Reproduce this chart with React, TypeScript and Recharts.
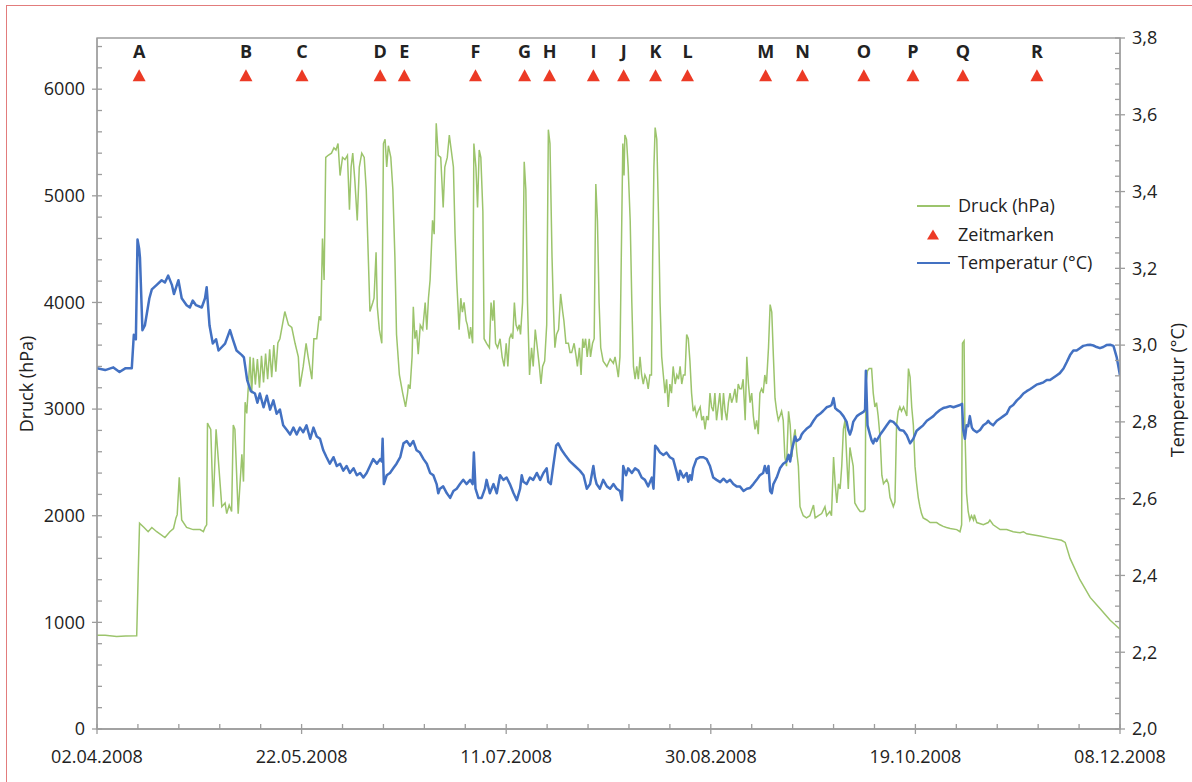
import React from "react";
import { ComposedChart, Line, Scatter, XAxis, YAxis, ReferenceArea, Legend } from "recharts";

const FONT = "'Open Sans', 'Noto Sans', sans-serif";
const GREEN = "#9cc46c";
const BLUE = "#4371c2";
const RED = "#ec3a25";
const AXIS = "#9d9d9d";
const TEXT = "#222";

// x = days since 02.04.2008
const dateDays = [0, 50, 100, 150, 200, 250];
const dateLabels = ["02.04.2008", "22.05.2008", "11.07.2008", "30.08.2008", "19.10.2008", "08.12.2008"];
const dayTicks = Array.from({ length: 26 }, (_, i) => i * 10);
const druckTicks = Array.from({ length: 33 }, (_, i) => i * 200);
const druckLabels = [0, 1000, 2000, 3000, 4000, 5000, 6000];
const tempTicks = Array.from({ length: 46 }, (_, i) => Math.round((2 + i * 0.04) * 100) / 100);
const tempLabels = [2.0, 2.2, 2.4, 2.6, 2.8, 3.0, 3.2, 3.4, 3.6, 3.8];

// Zeitmarken [day, label]
const marken: [number, string][] = [
  [10.3, "A"], [36.4, "B"], [50.1, "C"], [69.2, "D"], [75.1, "E"], [92.5, "F"],
  [104.5, "G"], [110.6, "H"], [121.3, "I"], [128.7, "J"], [136.5, "K"], [144.3, "L"],
  [163.4, "M"], [172.4, "N"], [187.4, "O"], [199.4, "P"], [211.6, "Q"], [229.7, "R"],
];
const markenHoehe = 6130;

// Druck (hPa) [day, value]
const druck: [number, number][] = [
  [0, 880], [2, 878], [4.8, 868], [7, 872], [9.7, 875], [10.1, 1500], [10.4, 1930], [11.5, 1890], [12.5, 1850],
  [13.4, 1890], [14.6, 1850], [16.6, 1795], [17.8, 1850], [18.7, 1880], [19.3, 1980], [19.6, 2010], [20.1, 2360],
  [20.7, 1960], [21.9, 1890], [23.5, 1870], [25.2, 1870], [26.0, 1850], [26.4, 1890], [26.8, 1915], [27.0, 2870],
  [27.5, 2830], [27.8, 2810], [28.4, 2085], [29.1, 2810], [30.5, 2085], [31.3, 2120], [31.7, 2020], [32.3, 2100],
  [32.9, 2040], [33.3, 2850], [33.7, 2810], [34.5, 2020], [35.4, 2575], [35.8, 2320], [36.2, 3065], [36.6, 2960],
  [37.4, 3490], [37.8, 3150], [38.2, 3480], [38.7, 3230], [39.2, 3470], [39.7, 3200], [40.2, 3500], [40.7, 3250],
  [41.2, 3520], [41.7, 3280], [42.2, 3560], [42.7, 3300], [43.2, 3600], [43.7, 3350], [44.2, 3620], [44.7, 3660],
  [45.9, 3915], [46.8, 3790], [47.6, 3765], [48.4, 3617], [49.2, 3490], [49.6, 3210], [50.4, 3400], [51.1, 3617],
  [51.6, 3490], [52.5, 3280], [53.0, 3660], [53.7, 3660], [54.3, 3870], [54.7, 3830], [55.1, 4600], [55.5, 4210],
  [55.9, 5360], [56.5, 5380], [57.3, 5400], [57.9, 5450], [58.4, 5430], [58.9, 5490], [59.4, 5190], [60.0, 5360],
  [60.6, 5340], [61.2, 5380], [61.7, 4870], [62.1, 5270], [62.5, 5400], [63.0, 5150], [63.6, 4770], [64.1, 5270],
  [64.7, 5400], [65.3, 5360], [65.8, 5060], [66.2, 4550], [66.7, 3915], [67.4, 4000], [67.7, 4040], [68.2, 4470],
  [68.5, 3960], [69.0, 3745], [69.6, 3617], [70.0, 5490], [70.4, 5530], [70.8, 5270], [71.2, 5470], [71.8, 5360],
  [72.3, 5060], [72.8, 4425], [73.2, 3700], [73.9, 3320], [74.7, 3150], [75.4, 3020], [75.9, 3150], [76.1, 3230],
  [76.5, 3190], [77.0, 3490], [77.3, 3960], [77.7, 3660], [78.1, 3740], [78.5, 3515], [79.0, 3787], [79.6, 3745],
  [80.2, 4000], [80.6, 3745], [81.0, 4040], [81.4, 4210], [82.0, 4770], [82.4, 4640], [82.9, 5680], [83.4, 5380],
  [84.0, 5360], [84.6, 4890], [85.0, 5270], [85.6, 5360], [86.1, 5570], [86.5, 5450], [87.1, 5270], [87.5, 4640],
  [87.9, 4210], [88.5, 3745], [88.9, 4040], [89.3, 3910], [89.7, 4000], [90.2, 3830], [90.5, 3790], [91.0, 3660],
  [91.3, 3770], [91.8, 3617], [92.1, 5490], [92.6, 5270], [93.0, 4890], [93.4, 5430], [93.8, 5360], [94.3, 4850],
  [94.6, 3660], [95.2, 3617], [95.9, 3575], [96.3, 4000], [96.7, 3830], [97.0, 4020], [97.4, 3617], [97.9, 3575],
  [98.5, 3660], [99.0, 3490], [99.5, 3400], [100.0, 3617], [100.4, 3400], [100.8, 3660], [101.2, 3700], [101.6, 3660],
  [102.0, 4000], [102.4, 3790], [102.8, 3745], [103.2, 3790], [103.5, 3700], [104.0, 4000], [104.4, 5320], [104.8, 5060],
  [105.2, 4000], [105.7, 3320], [106.2, 3575], [106.6, 3400], [107.1, 3745], [107.6, 3575], [108.1, 3400], [108.5, 3235],
  [108.9, 3400], [109.4, 3450], [109.9, 3790], [110.3, 5620], [110.7, 5490], [111.2, 4425], [111.5, 4000], [111.9, 3575],
  [112.3, 3700], [112.8, 3745], [113.3, 4080], [113.8, 3915], [114.1, 3830], [114.6, 3617], [115.2, 3617], [115.6, 3530],
  [116.0, 3530], [116.6, 3617], [117.1, 3490], [117.4, 3400], [117.9, 3575], [118.3, 3320], [118.7, 3660], [119.0, 3575],
  [119.4, 3660], [119.8, 3490], [120.3, 3660], [120.6, 3490], [121.1, 3617], [121.5, 3660], [121.9, 5110], [122.3, 4770],
  [122.7, 4000], [123.1, 3575], [123.7, 3450], [124.6, 3400], [125.4, 3470], [126.2, 3430], [126.6, 3490], [127.0, 3400],
  [127.4, 3300], [127.8, 3490], [128.2, 4640], [128.5, 5490], [128.8, 5190], [129.0, 5570], [129.4, 5530], [129.8, 5270],
  [130.3, 4770], [130.7, 4000], [131.1, 3400], [131.5, 3280], [131.9, 3400], [132.3, 3280], [132.7, 3490], [133.1, 3320],
  [133.5, 3235], [133.9, 3320], [134.3, 3280], [134.7, 3190], [135.1, 3320], [135.5, 3320], [135.8, 4425], [136.1, 5270],
  [136.4, 5640], [136.8, 5530], [137.2, 4850], [137.6, 4000], [138.0, 3490], [138.4, 3320], [138.8, 3150], [139.2, 3280],
  [139.6, 3020], [140.0, 3235], [140.4, 3150], [140.8, 3400], [141.3, 3235], [141.7, 3320], [142.1, 3280], [142.5, 3400],
  [142.9, 3235], [143.3, 3320], [143.7, 3320], [144.1, 3700], [144.5, 3660], [144.9, 3450], [145.3, 3150], [145.7, 2980],
  [146.1, 3020], [146.5, 2935], [146.9, 2980], [147.4, 3020], [147.8, 2895], [148.2, 2935], [148.6, 2810], [149.0, 2935],
  [149.4, 2895], [149.8, 3150], [150.2, 3020], [150.6, 2980], [151.0, 3150], [151.4, 2895], [151.8, 3020], [152.2, 3150],
  [152.7, 2895], [153.1, 3150], [153.5, 2980], [153.9, 2895], [154.3, 3060], [154.7, 3150], [155.1, 3060], [155.5, 3110],
  [155.9, 3190], [156.3, 3060], [156.7, 3235], [157.1, 3190], [157.5, 3190], [157.9, 3280], [158.4, 2895], [158.8, 3490],
  [159.2, 3235], [159.6, 3060], [160.0, 3150], [160.4, 2935], [160.8, 2810], [161.2, 2895], [161.6, 2765], [162.0, 3150],
  [162.4, 3190], [162.8, 3150], [163.2, 3320], [163.6, 3235], [164.1, 3575], [164.5, 3980], [164.9, 3910], [165.3, 3490],
  [165.7, 3100], [166.1, 2980], [166.5, 2895], [166.9, 2935], [167.3, 2980], [167.7, 2895], [168.1, 2550], [168.5, 2465],
  [169.0, 2980], [169.4, 2850], [169.8, 2550], [170.2, 2720], [170.6, 2810], [171.0, 2600], [171.4, 2465], [171.8, 2085],
  [172.2, 2040], [172.6, 2000], [173.4, 1980], [174.2, 2000], [175.1, 2100], [175.5, 1980], [176.3, 2000], [177.1, 2020],
  [177.9, 2085], [178.3, 2000], [179.1, 2040], [179.5, 2000], [180.0, 2550], [180.4, 2300], [180.8, 2120], [181.2, 2300],
  [181.6, 2250], [182.0, 2465], [182.4, 2810], [182.8, 2895], [183.2, 2550], [183.6, 2250], [184.0, 2640], [184.4, 2550],
  [184.8, 2465], [185.2, 2120], [185.7, 2085], [186.1, 2060], [186.5, 2040], [187.3, 2040], [187.7, 2060], [187.9, 3235],
  [188.3, 3360], [188.7, 3380], [189.3, 3380], [189.7, 3150], [190.1, 3020], [190.5, 3060], [190.9, 2935], [191.4, 2720],
  [191.8, 2380], [192.2, 2300], [193.0, 2340], [193.4, 2300], [193.8, 2170], [194.2, 2130], [194.6, 2085], [195.0, 2130],
  [195.4, 2850], [195.8, 2980], [196.2, 3020], [196.6, 2980], [197.1, 3020], [197.5, 2980], [197.9, 2935], [198.3, 3380],
  [198.7, 3300], [199.1, 3020], [199.5, 2850], [199.9, 2465], [200.3, 2300], [200.7, 2170], [201.1, 2085], [201.5, 2020],
  [201.9, 1980], [202.8, 1960], [203.6, 1936], [204.4, 1936], [205.2, 1936], [206.0, 1915], [206.8, 1900], [207.6, 1890],
  [208.5, 1880], [210.1, 1870], [210.9, 1850], [211.3, 1915], [211.5, 3617], [211.9, 3640], [212.1, 2810], [212.5, 2210],
  [212.9, 2040], [213.3, 1960], [213.7, 2000], [214.2, 1960], [214.4, 2010], [215.0, 1936], [216.6, 1915], [217.8, 1936],
  [218.2, 1960], [219.0, 1915], [220.7, 1870], [222.3, 1870], [223.9, 1850], [225.6, 1840], [226.4, 1850], [227.2, 1830],
  [230.4, 1810], [232.9, 1790], [235.7, 1770], [236.6, 1750], [237.8, 1600], [240.2, 1400], [242.7, 1234], [245.1, 1130],
  [247.6, 1020], [250, 936],
];

// Temperatur (°C) [day, value]
const temperatur: [number, number][] = [
  [0, 2.94], [2, 2.935], [4, 2.942], [5.5, 2.93], [7, 2.94], [8.5, 2.94], [9.0, 3.027], [9.5, 3.015], [9.9, 3.275],
  [10.3, 3.251], [10.5, 3.228], [11.1, 3.039], [11.7, 3.051], [12.8, 3.122], [13.4, 3.145], [14.6, 3.157], [15.8, 3.169],
  [16.6, 3.163], [17.4, 3.181], [18.3, 3.157], [18.8, 3.133], [19.9, 3.169], [20.7, 3.122], [21.9, 3.104], [22.7, 3.098],
  [23.4, 3.116], [24.2, 3.104], [25.6, 3.098], [26.4, 3.122], [26.8, 3.151], [27.5, 3.051], [28.3, 3.004], [29.1, 3.015],
  [29.7, 2.986], [31.3, 3.004], [32.5, 3.039], [33.2, 3.015], [34.1, 2.986], [35.4, 2.974], [35.9, 2.968], [36.7, 2.909],
  [37.6, 2.88], [38.6, 2.874], [39.2, 2.85], [39.8, 2.874], [40.7, 2.838], [41.5, 2.868], [42.3, 2.832], [43.1, 2.856],
  [43.9, 2.821], [44.7, 2.832], [45.5, 2.791], [46.4, 2.779], [47.2, 2.767], [48.0, 2.785], [48.8, 2.767], [49.6, 2.785],
  [50.4, 2.773], [51.2, 2.791], [52.1, 2.756], [52.9, 2.785], [53.7, 2.762], [54.5, 2.756], [55.3, 2.726], [56.1, 2.708],
  [56.9, 2.691], [57.8, 2.708], [58.6, 2.685], [59.4, 2.691], [60.2, 2.673], [61.0, 2.685], [61.8, 2.667], [62.7, 2.679],
  [63.5, 2.661], [64.3, 2.667], [65.1, 2.655], [65.9, 2.667], [66.7, 2.685], [67.5, 2.703], [68.4, 2.691], [69.2, 2.703],
  [69.6, 2.697], [69.8, 2.756], [70.1, 2.638], [70.8, 2.661], [71.6, 2.667], [72.4, 2.679], [73.2, 2.691], [74.1, 2.708],
  [74.9, 2.744], [75.7, 2.75], [76.5, 2.738], [77.3, 2.75], [78.1, 2.726], [78.9, 2.72], [79.8, 2.703], [80.6, 2.691],
  [81.4, 2.667], [82.2, 2.661], [83.0, 2.638], [83.4, 2.614], [83.8, 2.626], [84.6, 2.632], [85.5, 2.614], [86.3, 2.602],
  [87.1, 2.62], [87.9, 2.626], [88.7, 2.638], [89.5, 2.649], [90.3, 2.638], [91.2, 2.649], [91.8, 2.638], [92.1, 2.72],
  [92.5, 2.626], [93.2, 2.602], [94.0, 2.602], [94.8, 2.626], [95.2, 2.649], [96.0, 2.614], [96.9, 2.638], [97.7, 2.614],
  [98.5, 2.661], [99.3, 2.649], [100.1, 2.655], [100.9, 2.638], [101.8, 2.614], [102.6, 2.596], [103.4, 2.626], [103.8, 2.661],
  [104.2, 2.644], [105.0, 2.638], [105.8, 2.655], [106.6, 2.649], [107.5, 2.667], [108.3, 2.649], [109.1, 2.667], [109.9, 2.679],
  [110.3, 2.644], [110.9, 2.638], [111.5, 2.685], [112.2, 2.738], [112.7, 2.744], [113.6, 2.726], [114.4, 2.714], [115.6, 2.697],
  [116.8, 2.685], [118.0, 2.673], [118.9, 2.661], [119.7, 2.626], [120.5, 2.638], [121.3, 2.685], [121.7, 2.655], [122.1, 2.638],
  [122.9, 2.626], [123.7, 2.649], [124.6, 2.632], [125.4, 2.626], [126.2, 2.638], [127.0, 2.626], [127.8, 2.62], [128.3, 2.596],
  [128.6, 2.685], [129.3, 2.661], [129.8, 2.679], [130.7, 2.667], [131.5, 2.679], [132.3, 2.673], [133.1, 2.655], [133.9, 2.649],
  [134.7, 2.632], [135.6, 2.655], [136.0, 2.626], [136.4, 2.738], [136.9, 2.732], [137.6, 2.72], [138.4, 2.714], [139.2, 2.72],
  [140.0, 2.708], [140.8, 2.703], [141.7, 2.667], [142.1, 2.649], [142.5, 2.673], [143.3, 2.655], [144.1, 2.667], [144.5, 2.644],
  [144.9, 2.661], [145.3, 2.649], [145.7, 2.679], [146.5, 2.703], [147.4, 2.708], [148.2, 2.708], [149.0, 2.703], [149.8, 2.685],
  [150.6, 2.655], [151.4, 2.649], [152.3, 2.643], [153.1, 2.652], [153.9, 2.643], [154.7, 2.649], [155.5, 2.638], [156.3, 2.632],
  [157.1, 2.632], [158.0, 2.62], [158.8, 2.626], [159.6, 2.628], [160.4, 2.638], [161.2, 2.649], [162.0, 2.661], [162.8, 2.667],
  [163.2, 2.685], [163.7, 2.667], [164.1, 2.685], [164.5, 2.62], [164.9, 2.614], [165.3, 2.638], [166.1, 2.655], [166.9, 2.679],
  [167.7, 2.691], [168.5, 2.697], [169.0, 2.714], [169.4, 2.697], [169.8, 2.726], [170.2, 2.744], [170.6, 2.762], [171.0, 2.75],
  [171.8, 2.756], [172.2, 2.767], [172.6, 2.773], [173.4, 2.782], [174.3, 2.789], [175.1, 2.803], [175.9, 2.815], [176.7, 2.821],
  [177.5, 2.829], [178.3, 2.838], [179.1, 2.841], [179.5, 2.844], [180.0, 2.862], [180.4, 2.836], [180.8, 2.832], [181.6, 2.826],
  [182.4, 2.815], [183.2, 2.8], [183.6, 2.779], [184.0, 2.767], [184.4, 2.779], [184.8, 2.8], [185.7, 2.815], [186.5, 2.821],
  [187.3, 2.826], [187.7, 2.832], [187.9, 2.933], [188.3, 2.791], [188.9, 2.767], [189.3, 2.752], [189.7, 2.744], [190.1, 2.756],
  [190.5, 2.75], [190.9, 2.758], [191.4, 2.767], [192.2, 2.779], [193.0, 2.791], [193.8, 2.803], [194.6, 2.8], [195.4, 2.791],
  [196.2, 2.779], [197.1, 2.777], [197.9, 2.765], [198.7, 2.744], [199.5, 2.756], [200.3, 2.777], [201.1, 2.784], [201.9, 2.791],
  [202.8, 2.803], [203.6, 2.809], [204.4, 2.815], [205.2, 2.824], [206.0, 2.831], [206.8, 2.836], [207.6, 2.838], [208.5, 2.841],
  [209.3, 2.838], [210.9, 2.844], [211.4, 2.847], [211.7, 2.779], [212.1, 2.756], [212.5, 2.791], [212.9, 2.789], [213.3, 2.815],
  [213.8, 2.785], [214.2, 2.779], [215.0, 2.773], [215.8, 2.779], [216.6, 2.791], [217.4, 2.797], [217.8, 2.803], [218.2, 2.797],
  [219.0, 2.791], [219.9, 2.803], [220.7, 2.809], [221.5, 2.815], [222.3, 2.821], [223.1, 2.838], [223.9, 2.844], [224.8, 2.856],
  [225.6, 2.864], [226.4, 2.874], [227.2, 2.88], [228.0, 2.885], [228.8, 2.891], [229.6, 2.897], [230.5, 2.9], [231.3, 2.903],
  [232.1, 2.909], [232.9, 2.909], [233.7, 2.915], [234.5, 2.921], [235.3, 2.927], [236.2, 2.939], [237.0, 2.956], [237.8, 2.974],
  [238.6, 2.986], [239.4, 2.986], [240.2, 2.992], [241.0, 2.998], [241.9, 3.0], [242.7, 3.001], [243.5, 2.999], [244.3, 2.995],
  [245.1, 2.992], [245.9, 2.995], [246.7, 3.0], [247.6, 3.001], [248.4, 2.998], [249.2, 2.968], [250, 2.921],
];

const druckRows = druck.map(([d, p]) => ({ d, p }));
const tempRows = temperatur.map(([d, t]) => ({ d, t }));
const markenRows = marken.map(([d, name]) => ({ d, m: markenHoehe, name }));

const legendItems = [
  { label: "Druck (hPa)", kind: "line", color: GREEN },
  { label: "Zeitmarken", kind: "triangle", color: RED },
  { label: "Temperatur (°C)", kind: "line", color: BLUE },
];

function DayTick(props: any) {
  const { x, y, payload } = props;
  const i = dateDays.indexOf(payload.value);
  const major = i >= 0;
  return (
    <g>
      <line x1={x} x2={x} y1={y - 5} y2={major ? y + 5 : y} stroke={AXIS} strokeWidth={1.3} />
      {major && (
        <text x={x} y={y + 34} textAnchor="middle" fontSize={18} fontFamily={FONT} fill={TEXT}>
          {dateLabels[i]}
        </text>
      )}
    </g>
  );
}

function DruckTick(props: any) {
  const { x, y, payload } = props;
  const major = druckLabels.includes(payload.value);
  return (
    <g>
      <line x1={major ? x - 5 : x} x2={x + 5} y1={y} y2={y} stroke={AXIS} strokeWidth={1.3} />
      {major && (
        <text x={x - 12} y={y} dy="0.35em" textAnchor="end" fontSize={18} fontFamily={FONT} fill={TEXT}>
          {payload.value}
        </text>
      )}
    </g>
  );
}

function TempTick(props: any) {
  const { x, y, payload } = props;
  const major = tempLabels.some((v) => Math.abs(v - payload.value) < 0.001);
  return (
    <g>
      <line x1={x - 5} x2={major ? x + 5 : x} y1={y} y2={y} stroke={AXIS} strokeWidth={1.3} />
      {major && (
        <text x={x + 12} y={y} dy="0.35em" textAnchor="start" fontSize={18} fontFamily={FONT} fill={TEXT}>
          {payload.value.toFixed(1).replace(".", ",")}
        </text>
      )}
    </g>
  );
}

function Marke(props: any) {
  const { cx, cy, payload } = props;
  return (
    <g>
      <polygon points={`${cx - 6.5},${cy + 6} ${cx + 6.5},${cy + 6} ${cx},${cy - 6}`} fill={RED} />
      <text x={cx} y={cy - 17} textAnchor="middle" fontSize={18} fontWeight={700} fontFamily={FONT} fill={TEXT}>
        {payload.name}
      </text>
    </g>
  );
}

function LegendBox() {
  return (
    <svg width={200} height={90}>
      {legendItems.map((it, i) => {
        const y = 16 + i * 28.5;
        return (
          <g key={it.label}>
            {it.kind === "line" ? (
              <line x1={7} x2={40} y1={y} y2={y} stroke={it.color} strokeWidth={2} />
            ) : (
              <polygon points={`${17},${y + 5} ${29},${y + 5} ${23},${y - 5}`} fill={it.color} />
            )}
            <text x={48} y={y} dy="0.35em" fontSize={18} fontFamily={FONT} fill={TEXT}>
              {it.label}
            </text>
          </g>
        );
      })}
    </svg>
  );
}

export default function App() {
  return (
    <div
      style={{
        position: "fixed",
        left: 0,
        top: 0,
        width: 1192,
        height: 782,
        overflow: "hidden",
        background: "#fff",
      }}
    >
      <div
        style={{
          position: "absolute",
          left: 6,
          top: 5,
          width: 1300,
          height: 900,
          border: "1.5px solid #e27c7c",
        }}
      />
      <div style={{ position: "absolute", left: 0, top: 0 }}>
        <ComposedChart width={1192} height={782} margin={{ top: 38, right: 0, bottom: 0, left: 0 }}>
          <XAxis
            dataKey="d"
            type="number"
            domain={[0, 250]}
            ticks={dayTicks}
            interval={0}
            tickSize={0}
            tickMargin={0}
            tickLine={false}
            tick={<DayTick />}
            axisLine={{ stroke: AXIS, strokeWidth: 1.3 }}
            height={53}
            allowDataOverflow
          />
          <YAxis
            yAxisId="p"
            orientation="left"
            type="number"
            domain={[0, 6480]}
            ticks={druckTicks}
            interval={0}
            tickSize={0}
            tickMargin={0}
            tickLine={false}
            tick={<DruckTick />}
            axisLine={{ stroke: AXIS, strokeWidth: 1.3 }}
            width={97}
            allowDataOverflow
            label={() => (
              <text
                x={27}
                y={384}
                dy="0.35em"
                transform="rotate(-90 27 384)"
                textAnchor="middle"
                fontSize={18}
                fontFamily={FONT}
                fill={TEXT}
              >
                Druck (hPa)
              </text>
            )}
          />
          <YAxis
            yAxisId="t"
            orientation="right"
            type="number"
            domain={[2, 3.8]}
            ticks={tempTicks}
            interval={0}
            tickSize={0}
            tickMargin={0}
            tickLine={false}
            tick={<TempTick />}
            axisLine={{ stroke: AXIS, strokeWidth: 1.3 }}
            width={72}
            allowDataOverflow
            label={() => (
              <text
                x={1178}
                y={390}
                dy="0.35em"
                transform="rotate(-90 1178 390)"
                textAnchor="middle"
                fontSize={18}
                fontFamily={FONT}
                fill={TEXT}
              >
                Temperatur (°C)
              </text>
            )}
          />
          <ReferenceArea yAxisId="p" x1={0} x2={250} y1={0} y2={6480} fill="none" stroke={AXIS} strokeWidth={1.3} />
          <Line
            yAxisId="p"
            data={druckRows}
            dataKey="p"
            name="Druck (hPa)"
            type="linear"
            stroke={GREEN}
            strokeWidth={1.5}
            dot={false}
            isAnimationActive={false}
          />
          <Scatter
            yAxisId="p"
            data={markenRows}
            dataKey="m"
            name="Zeitmarken"
            shape={<Marke />}
            isAnimationActive={false}
          />
          <Line
            yAxisId="t"
            data={tempRows}
            dataKey="t"
            name="Temperatur (°C)"
            type="linear"
            stroke={BLUE}
            strokeWidth={2.5}
            strokeLinejoin="round"
            dot={false}
            isAnimationActive={false}
          />
          <Legend
            layout="vertical"
            align="center"
            verticalAlign="middle"
            content={() => <LegendBox />}
            wrapperStyle={{ left: 910, top: 190, width: 200, height: 90 }}
          />
        </ComposedChart>
      </div>
    </div>
  );
}
